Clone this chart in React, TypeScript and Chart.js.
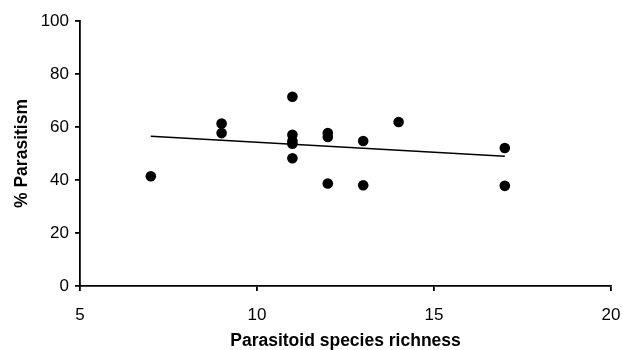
import React, { useEffect, useRef } from "react";
import { Chart, registerables } from "chart.js";

Chart.register(...registerables);

const richness = [7, 9, 9, 11, 11, 11, 11, 11, 12, 12, 12, 13, 13, 14, 17, 17];
const parasitism = [41.4, 61.3, 57.7, 71.4, 57.1, 54.7, 53.7, 48.2, 57.7, 56.2, 38.7, 54.7, 38.0, 61.9, 52.1, 37.8];
const trendX = [7, 17];
const trendY = [56.5, 49.0];
const xTicks = [5, 10, 15, 20];
const yTicks = [0, 20, 40, 60, 80, 100];

export default function App() {
  const ref = useRef<HTMLCanvasElement | null>(null);
  useEffect(() => {
    if (!ref.current) return;
    const font = "'Liberation Sans', Arial, sans-serif";
    const chart = new Chart(ref.current, {
      type: "scatter",
      data: {
        datasets: [
          {
            label: "Trend",
            data: trendX.map((x, i) => ({ x, y: trendY[i] })),
            showLine: true,
            borderColor: "#000",
            borderWidth: 1.5,
            pointRadius: 0,
            order: 2,
          },
          {
            label: "Parasitism",
            data: richness.map((x, i) => ({ x, y: parasitism[i] })),
            backgroundColor: "#000",
            borderColor: "#000",
            pointRadius: 5.3,
            pointBorderWidth: 0,
            order: 1,
          },
        ],
      },
      options: {
        animation: false,
        responsive: true,
        maintainAspectRatio: false,
        layout: { padding: { top: 21, right: 11, left: 0, bottom: 0 } },
        plugins: { legend: { display: false }, tooltip: { enabled: false } },
        scales: {
          x: {
            type: "linear",
            min: 5,
            max: 20,
            afterBuildTicks: (s: any) => {
              s.ticks = xTicks.map((v) => ({ value: v }));
            },
            afterFit: (s: any) => {
              s.height = 64;
              s.paddingRight = 0;
              s.paddingLeft = 0;
            },
            border: { display: true, color: "#000", width: 1.8 },
            grid: { display: true, drawOnChartArea: false, drawTicks: true, tickLength: 5, color: "#000", lineWidth: 1.8 },
            ticks: { color: "#000", padding: 14, maxRotation: 0, font: { family: font, size: 17 } },
            title: {
              display: true,
              text: "Parasitoid species richness",
              color: "#000",
              font: { family: font, size: 17.5, weight: "bold", lineHeight: 1 },
              padding: { top: 0, bottom: 0 },
            },
          },
          y: {
            type: "linear",
            min: 0,
            max: 100,
            afterBuildTicks: (s: any) => {
              s.ticks = yTicks.map((v) => ({ value: v }));
            },
            afterFit: (s: any) => {
              s.width = 80;
            },
            border: { display: true, color: "#000", width: 1.8 },
            grid: { display: true, drawOnChartArea: false, drawTicks: true, tickLength: 5, color: "#000", lineWidth: 1.8 },
            ticks: { color: "#000", padding: 6, font: { family: font, size: 17 } },
            title: {
              display: true,
              text: "% Parasitism",
              color: "#000",
              font: { family: font, size: 17.5, weight: "bold" },
              padding: { top: 12, bottom: 0 },
            },
          },
        },
      },
    });
    return () => chart.destroy();
  }, []);
  return (
    <div style={{ position: "fixed", left: 0, top: 0, width: 622, height: 350, background: "#fff" }}>
      <canvas ref={ref} />
    </div>
  );
}
